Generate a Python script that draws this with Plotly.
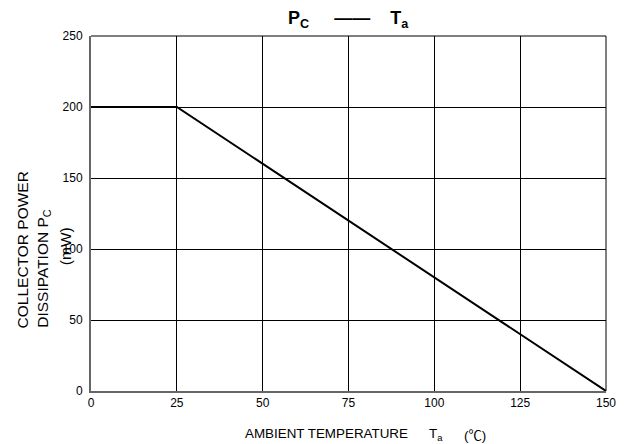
import plotly.graph_objects as go

temp_c = [0, 25, 150]
power_mw = [200, 200, 0]
x_ticks = [0, 25, 50, 75, 100, 125, 150]
y_ticks = [0, 50, 100, 150, 200, 250]

FONT = "Liberation Sans, Arial, sans-serif"
CJK = "Noto Sans CJK SC"

fig = go.Figure()
fig.add_trace(go.Scatter(x=temp_c, y=power_mw, mode="lines",
                         line=dict(color="black", width=2), showlegend=False,
                         cliponaxis=False))

fig.update_layout(
    width=627, height=444,
    margin=dict(l=91, r=21, t=36, b=53),
    paper_bgcolor="white", plot_bgcolor="white",
    font=dict(family=FONT, size=12, color="black"),
    xaxis=dict(range=[0, 150], tickvals=x_ticks, showgrid=True, gridcolor="black",
               gridwidth=1, showline=True, linecolor="#666666", linewidth=2,
               zeroline=False, ticks="", ticklabelstandoff=0,
               tickfont=dict(size=12, family=FONT)),
    yaxis=dict(range=[0, 250], tickvals=y_ticks, showgrid=True, gridcolor="black",
               gridwidth=1, showline=True, linecolor="#666666", linewidth=2,
               zeroline=False, ticks="", ticklabelstandoff=4,
               tickfont=dict(size=12, family=FONT)),
)

# frame on top and right
fig.add_shape(type="line", xref="paper", yref="paper", x0=0, x1=1, y0=1, y1=1,
              line=dict(color="black", width=1))
fig.add_shape(type="line", xref="paper", yref="paper", x0=1, x1=1, y0=0, y1=1,
              line=dict(color="black", width=1))

# title
fig.add_annotation(text="<b>P<sub>C</sub>     \u2014\u2014    T<sub>a</sub></b>",
                   xref="paper", yref="paper", x=0.5, y=1.0, yshift=3,
                   xanchor="center", yanchor="bottom", showarrow=False,
                   font=dict(size=18, family=FONT))

# x-axis title pieces
fig.add_annotation(text="AMBIENT TEMPERATURE", xref="paper", yref="paper",
                   x=0.2951, y=0, yshift=-33, xanchor="left", yanchor="top",
                   showarrow=False, font=dict(size=13.4, family=FONT))
fig.add_annotation(text="T<sub>a</sub>", xref="paper", yref="paper",
                   x=0.6524, y=0, yshift=-33, xanchor="left", yanchor="top",
                   showarrow=False, font=dict(size=13.4, family=FONT))
fig.add_annotation(text="(<span style=\"font-family:'" + CJK + "'\">\u2103</span>)",
                   xref="paper", yref="paper",
                   x=0.7204, y=0, yshift=-43, xanchor="left", yanchor="middle",
                   showarrow=False, font=dict(size=13.4, family=FONT))

# y-axis title pieces
fig.add_annotation(text="COLLECTOR POWER", xref="paper", yref="paper",
                   x=-0.134, xanchor="center", y=0.172, yanchor="bottom", textangle=-90,
                   showarrow=False, font=dict(size=15.5, family=FONT))
fig.add_annotation(text="DISSIPATION P<sub>C</sub>", xref="paper", yref="paper",
                   x=-0.115, xanchor="left", y=0.172, yanchor="bottom", textangle=-90,
                   showarrow=False, font=dict(size=15.5, family=FONT))
fig.add_annotation(text="(mW)", xref="paper", yref="paper",
                   x=-0.0505, xanchor="center", y=0.408, yanchor="middle", textangle=-90,
                   showarrow=False, font=dict(size=15.5, family=FONT))

fig.write_html("out.html")
